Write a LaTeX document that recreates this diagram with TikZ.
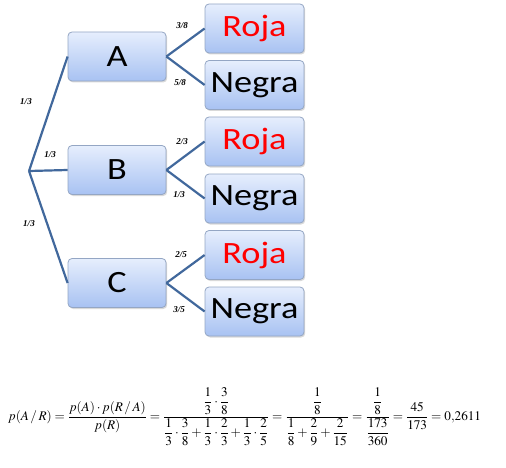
\documentclass[tikz,border=0pt]{standalone}
\usepackage{amsmath}
\usepackage{mathptmx}
\usepackage{fontspec}
\setmainfont{Liberation Serif}
\newfontfamily\boxfont[FakeStretch=1.17]{Carlito}
\usetikzlibrary{shadows}
\definecolor{branch}{HTML}{41689C}
\definecolor{boxtop}{HTML}{E6EEFD}
\definecolor{boxbot}{HTML}{A8C2F2}
\definecolor{boxedge}{HTML}{94A6C4}
\begin{document}
\begin{tikzpicture}[x=1pt,y=-1pt,
  tbox/.style={draw=boxedge, line width=0.8pt, rounded corners=4pt,
    top color=boxtop, bottom color=boxbot, minimum height=49pt,
    inner sep=0pt, font=\boxfont\fontsize{31}{31}\selectfont,
    drop shadow={shadow xshift=1.2pt, shadow yshift=-1.5pt, opacity=0.25, fill=black!60}},
  lbox/.style={tbox, minimum width=98pt},
  rbox/.style={tbox, minimum width=99pt},
  branchline/.style={draw=branch, line width=2.2pt},
  prob/.style={font=\bfseries\itshape\fontsize{9}{10}\selectfont, inner sep=0pt}]
\useasboundingbox (0,0) rectangle (506,468);
\coordinate (root) at (29,171);
\node[lbox] (A) at (117,56.5) {A};
\node[lbox] (B) at (117,170) {B};
\node[lbox] (C) at (117,283) {C};
\node[rbox, text=red] (R1) at (254.5,28.5) {Roja};
\node[rbox] (N1) at (254.5,85) {Negra};
\node[rbox, text=red] (R2) at (254.5,141.5) {Roja};
\node[rbox] (N2) at (254.5,198.5) {Negra};
\node[rbox, text=red] (R3) at (254.5,255) {Roja};
\node[rbox] (N3) at (254.5,311.5) {Negra};
\draw[branchline] (root) -- (A.west);
\draw[branchline] (root) -- (B.west);
\draw[branchline] (root) -- (C.west);
\draw[branchline] (A.east) -- (R1.west);
\draw[branchline] (A.east) -- (N1.west);
\draw[branchline] (B.east) -- (R2.west);
\draw[branchline] (B.east) -- (N2.west);
\draw[branchline] (C.east) -- (R3.west);
\draw[branchline] (C.east) -- (N3.west);
\node[prob] (pA) at (26,102) {1/3};
\node[prob] (pB) at (50,155) {1/3};
\node[prob] (pC) at (29,224) {1/3};
\node[prob] (pAR) at (182,26) {3/8};
\node[prob] (pAN) at (180,83) {5/8};
\node[prob] (pBR) at (182,142) {2/3};
\node[prob] (pBN) at (179,195) {1/3};
\node[prob] (pCR) at (181,255) {2/5};
\node[prob] (pCN) at (179,310) {3/5};
\node[anchor=west, inner sep=0pt, font=\fontsize{13.2}{15}\selectfont] (formula) at (8,417)
{$\displaystyle p(A\,/\,R)=\frac{p(A)\cdot p(R\,/\,A)}{p(R)}
=\frac{\dfrac13\cdot\dfrac38}{\dfrac13\cdot\dfrac38+\dfrac13\cdot\dfrac23+\dfrac13\cdot\dfrac25}
=\frac{\dfrac18}{\dfrac18+\dfrac29+\dfrac2{15}}
=\frac{\dfrac18}{\dfrac{173}{360}}=\frac{45}{173}=0{,}2611$};
\end{tikzpicture}
\end{document}
